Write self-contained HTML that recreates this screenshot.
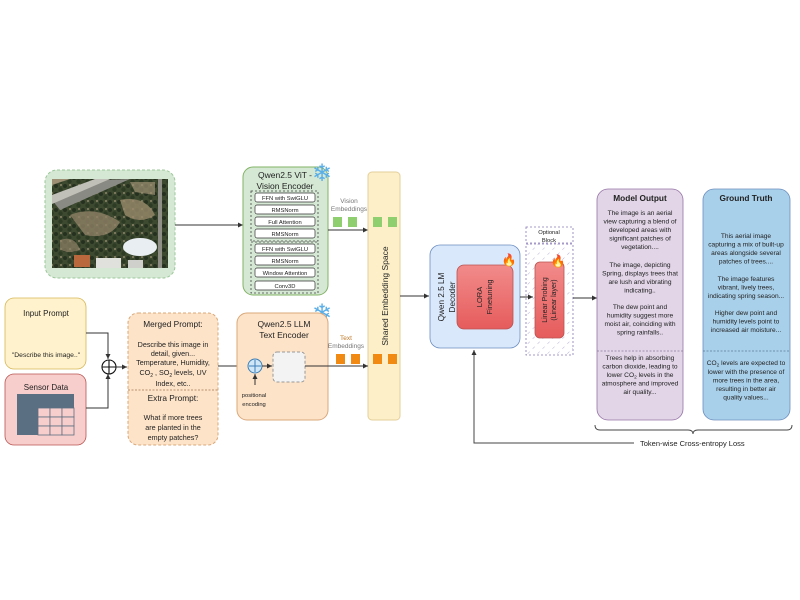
<!DOCTYPE html>
<html><head><meta charset="utf-8"><style>
html,body{margin:0;padding:0;background:#fff;width:800px;height:600px;overflow:hidden}
svg{display:block}
text{font-family:"Liberation Sans",Arial,sans-serif;fill:#222}
</style></head><body>
<svg width="800" height="600" viewBox="0 0 800 600" xmlns="http://www.w3.org/2000/svg">
<defs>
<marker id="ar" markerWidth="6" markerHeight="6" refX="5" refY="3" orient="auto"><path d="M0,0.5 L5,3 L0,5.5 z" fill="#333"/></marker>
<pattern id="hatch" width="7" height="7" patternUnits="userSpaceOnUse" patternTransform="rotate(45)"><line x1="0" y1="0" x2="0" y2="3" stroke="#b9b0d8" stroke-width="1"/></pattern>
<pattern id="trees" width="9" height="8" patternUnits="userSpaceOnUse"><rect width="9" height="8" fill="#3e4a30"/><circle cx="2" cy="2" r="2" fill="#26301f"/><circle cx="6.5" cy="5.5" r="2.2" fill="#2d3a24"/><circle cx="7" cy="1" r="1" fill="#8c8468"/></pattern>
<linearGradient id="red" x1="0" y1="0" x2="0" y2="1"><stop offset="0" stop-color="#f28b8b"/><stop offset="1" stop-color="#e65c5c"/></linearGradient>
</defs>

<!-- image container -->
<rect x="45" y="170" width="130" height="108" rx="12" fill="#d5e8d4" stroke="#9cc79a" stroke-dasharray="3,2"/>
<rect x="52" y="179" width="116" height="89" fill="url(#trees)"/>
<path d="M52,200 L100,180 L130,179 L60,210 Z" fill="#8a8a84"/>
<path d="M52,195 L95,179 L110,179 L52,204 Z" fill="#c0c0b8"/>
<path d="M52,185 L70,179 L52,179 Z" fill="#9c8f74"/>
<rect x="158" y="179" width="4" height="89" fill="#8f8f88"/>
<path d="M70,215 Q95,205 120,222 Q110,240 85,235 Z" fill="#8f8166" opacity="0.8"/>
<path d="M120,200 Q145,195 155,215 Q140,225 125,215 Z" fill="#998a6c" opacity="0.8"/>
<path d="M60,240 Q75,235 80,250 Q65,255 60,248 Z" fill="#8f8166" opacity="0.7"/>
<path d="M130,182 L155,182 L155,195 L135,192 Z" fill="#9c9074" opacity="0.7"/>
<ellipse cx="140" cy="247" rx="17" ry="9" fill="#e8eef2"/>
<rect x="74" y="255" width="16" height="12" fill="#b9683e"/>
<rect x="96" y="258" width="25" height="10" fill="#e0e0dc"/>
<rect x="128" y="260" width="15" height="8" fill="#cfcfcb"/>
<path d="M175,225 L243,225" stroke="#333" marker-end="url(#ar)"/>

<!-- vision encoder -->
<rect x="243" y="167" width="85" height="128" rx="10" fill="#d5e8d4" stroke="#82b366"/>
<text x="285" y="178" font-size="8.5" text-anchor="middle">Qwen2.5 ViT -</text>
<text x="285" y="189" font-size="8.5" text-anchor="middle">Vision Encoder</text>
<rect x="251" y="191" width="67" height="50" fill="none" stroke="#444" stroke-dasharray="2,2" stroke-width="0.8"/>
<rect x="251" y="242" width="67" height="51" fill="none" stroke="#444" stroke-dasharray="2,2" stroke-width="0.8"/>
<g font-size="5.8" text-anchor="middle">
<rect x="255" y="193" width="60" height="9" rx="2" fill="#fff" stroke="#333" stroke-width="0.7"/><text x="285" y="200">FFN with SwiGLU</text>
<rect x="255" y="205" width="60" height="9" rx="2" fill="#fff" stroke="#333" stroke-width="0.7"/><text x="285" y="212">RMSNorm</text>
<rect x="255" y="217" width="60" height="9" rx="2" fill="#fff" stroke="#333" stroke-width="0.7"/><text x="285" y="224">Full Attention</text>
<rect x="255" y="229" width="60" height="9" rx="2" fill="#fff" stroke="#333" stroke-width="0.7"/><text x="285" y="236">RMSNorm</text>
<rect x="255" y="244" width="60" height="9" rx="2" fill="#fff" stroke="#333" stroke-width="0.7"/><text x="285" y="251">FFN with SwiGLU</text>
<rect x="255" y="256" width="60" height="9" rx="2" fill="#fff" stroke="#333" stroke-width="0.7"/><text x="285" y="263">RMSNorm</text>
<rect x="255" y="268" width="60" height="9" rx="2" fill="#fff" stroke="#333" stroke-width="0.7"/><text x="285" y="275">Window Attention</text>
<rect x="255" y="281" width="60" height="9" rx="2" fill="#fff" stroke="#333" stroke-width="0.7"/><text x="285" y="288">Conv3D</text>
</g>
<text x="322" y="181" font-size="24" text-anchor="middle" style="fill:#5aaee8">❄</text>
<text x="322" y="321" font-size="24" text-anchor="middle" style="fill:#5aaee8">❄</text>

<text x="349" y="203" font-size="6.5" text-anchor="middle" style="fill:#777">Vision</text>
<text x="349" y="211" font-size="6.5" text-anchor="middle" style="fill:#777">Embeddings</text>
<rect x="333" y="217" width="9" height="10" fill="#8fcf6f"/><rect x="348" y="217" width="9" height="10" fill="#8fcf6f"/>
<path d="M328,230 L368,230" stroke="#333" marker-end="url(#ar)"/>

<!-- shared embedding -->
<rect x="368" y="172" width="32" height="248" rx="4" fill="#fdf0c8" stroke="#e3cf9a"/>
<rect x="373" y="217" width="9" height="10" fill="#8fcf6f"/><rect x="388" y="217" width="9" height="10" fill="#8fcf6f"/>
<rect x="373" y="354" width="9" height="10" fill="#f08a12"/><rect x="388" y="354" width="9" height="10" fill="#f08a12"/>
<text transform="translate(388,296) rotate(-90)" font-size="8.5" text-anchor="middle">Shared Embedding Space</text>

<!-- input prompt / sensor -->
<rect x="5" y="298" width="81" height="71" rx="9" fill="#fff2cc" stroke="#d6b656" stroke-width="0.8"/>
<text x="46" y="316" font-size="8" text-anchor="middle">Input Prompt</text>
<text x="46" y="357" font-size="6.8" text-anchor="middle">"Describe this image.."</text>
<rect x="5" y="374" width="81" height="71" rx="9" fill="#f8cecc" stroke="#b85450" stroke-width="0.8"/>
<text x="46" y="390" font-size="8" text-anchor="middle">Sensor Data</text>
<rect x="17" y="394" width="57" height="41" fill="#5b6f82"/>
<g fill="#f8cecc" stroke="#5b6f82" stroke-width="0.8">
<rect x="38" y="408" width="12" height="9"/><rect x="50" y="408" width="12" height="9"/><rect x="62" y="408" width="12" height="9"/>
<rect x="38" y="417" width="12" height="9"/><rect x="50" y="417" width="12" height="9"/><rect x="62" y="417" width="12" height="9"/>
<rect x="38" y="426" width="12" height="9"/><rect x="50" y="426" width="12" height="9"/><rect x="62" y="426" width="12" height="9"/>
</g>
<path d="M86,333 L108,333 L108,359" stroke="#333" fill="none" marker-end="url(#ar)"/>
<path d="M86,408 L108,408 L108,374" stroke="#333" fill="none" marker-end="url(#ar)"/>
<circle cx="109" cy="367" r="7" fill="#fff" stroke="#111" stroke-width="1.1"/>
<path d="M102,367 L116,367 M109,360 L109,374" stroke="#111" stroke-width="1.1"/>
<path d="M116,367 L127,367" stroke="#333" marker-end="url(#ar)"/>

<!-- merged prompt -->
<rect x="128" y="313" width="90" height="132" rx="10" fill="#fde3c8" stroke="#d9a87a" stroke-dasharray="3,2"/>
<g font-size="7.2" text-anchor="middle">
<text x="173" y="327" font-size="8.3">Merged Prompt:</text>
<text x="173" y="347">Describe this image in</text>
<text x="173" y="356">detail, given...</text>
<text x="173" y="365">Temperature, Humidity,</text>
<text x="173" y="375">CO<tspan font-size="5" dy="2">2</tspan><tspan dy="-2"> , SO</tspan><tspan font-size="5" dy="2">2</tspan><tspan dy="-2"> levels, UV</tspan></text>
<text x="173" y="386">Index, etc..</text>
<text x="173" y="401" font-size="8.3">Extra Prompt:</text>
<text x="173" y="420">What if more trees</text>
<text x="173" y="430">are planted in the</text>
<text x="173" y="440">empty patches?</text>
</g>
<line x1="128" y1="390" x2="218" y2="390" stroke="#a07850" stroke-dasharray="2,1.5" stroke-width="0.8"/>
<path d="M218,366 L247,366" stroke="#333" marker-end="url(#ar)"/>

<!-- text encoder -->
<rect x="237" y="313" width="91" height="107" rx="10" fill="#fde3c8" stroke="#d9a87a"/>
<text x="284" y="327" font-size="8.5" text-anchor="middle">Qwen2.5 LLM</text>
<text x="284" y="338" font-size="8.5" text-anchor="middle">Text Encoder</text>
<circle cx="255" cy="366" r="7" fill="#cfe6f7" stroke="#3d7fb8"/>
<path d="M249,366 L261,366 M255,360 L255,372" stroke="#3d7fb8"/>
<path d="M255,385 L255,374" stroke="#333" marker-end="url(#ar)"/>
<text x="254" y="397" font-size="5.8" text-anchor="middle">positional</text>
<text x="254" y="406" font-size="5.8" text-anchor="middle">encoding</text>
<path d="M262,366 L272,366" stroke="#333" marker-end="url(#ar)"/>
<rect x="273" y="352" width="32" height="30" rx="4" fill="#f3f3f3" stroke="#999" stroke-dasharray="3,2"/>
<path d="M305,366 L368,366" stroke="#333" marker-end="url(#ar)"/>
<text x="346" y="340" font-size="6.5" text-anchor="middle" style="fill:#c07a2a">Text</text>
<text x="346" y="348" font-size="6.5" text-anchor="middle" style="fill:#777">Embeddings</text>
<rect x="336" y="354" width="9" height="10" fill="#f08a12"/><rect x="351" y="354" width="9" height="10" fill="#f08a12"/>

<!-- decoder -->
<path d="M400,296 L429,296" stroke="#333" marker-end="url(#ar)"/>
<rect x="430" y="245" width="90" height="103" rx="10" fill="#dae8fc" stroke="#6c8ebf" stroke-width="0.8"/>
<text transform="translate(444,297) rotate(-90)" font-size="8.2" text-anchor="middle">Qwen 2.5 LM</text>
<text transform="translate(455,297) rotate(-90)" font-size="8.2" text-anchor="middle">Decoder</text>
<rect x="457" y="265" width="56" height="64" rx="7" fill="url(#red)" stroke="#b85450" stroke-width="0.8"/>
<text transform="translate(482,297) rotate(-90)" font-size="7.5" text-anchor="middle">LORA</text>
<text transform="translate(492,297) rotate(-90)" font-size="7.5" text-anchor="middle">Finetuning</text>
<text x="509" y="264" font-size="12" text-anchor="middle">🔥</text>
<path d="M520,297 L533,297" stroke="#333" marker-end="url(#ar)"/>

<!-- optional block -->
<rect x="526" y="227" width="47" height="16" fill="#fff" stroke="#8878b8" stroke-dasharray="2,2" stroke-width="0.8"/>
<text x="549" y="234" font-size="5.8" text-anchor="middle">Optional</text>
<text x="549" y="242" font-size="5.8" text-anchor="middle">Block</text>
<rect x="526" y="244" width="47" height="111" fill="url(#hatch)" stroke="#8878b8" stroke-dasharray="2,2" stroke-width="0.8"/>
<rect x="535" y="262" width="29" height="76" rx="5" fill="url(#red)" stroke="#b85450" stroke-width="0.8"/>
<text transform="translate(547,300) rotate(-90)" font-size="7" text-anchor="middle">Linear Probing</text>
<text transform="translate(556,300) rotate(-90)" font-size="7" text-anchor="middle">(Linear layer)</text>
<text x="558" y="265" font-size="12" text-anchor="middle">🔥</text>
<path d="M573,298 L597,298" stroke="#333" marker-end="url(#ar)"/>

<!-- model output -->
<rect x="597" y="189" width="86" height="231" rx="11" fill="#e1d5e7" stroke="#9673a6" stroke-width="0.8"/>
<g font-size="6.6" text-anchor="middle">
<text x="640" y="201" font-size="8.3" font-weight="bold">Model Output</text>
<text x="640" y="215">The image is an aerial</text>
<text x="640" y="223.5">view capturing a blend of</text>
<text x="640" y="232">developed areas with</text>
<text x="640" y="240.5">significant patches of</text>
<text x="640" y="249">vegetation....</text>
<text x="640" y="267">The image, depicting</text>
<text x="640" y="275.5">Spring, displays trees that</text>
<text x="640" y="284">are lush and vibrating</text>
<text x="640" y="292.5">indicating..</text>
<text x="640" y="309">The dew point and</text>
<text x="640" y="317.5">humidity suggest more</text>
<text x="640" y="326">moist air, coinciding with</text>
<text x="640" y="334.5">spring rainfalls..</text>
<text x="640" y="360">Trees help in absorbing</text>
<text x="640" y="368.5">carbon dioxide, leading to</text>
<text x="640" y="377">lower CO<tspan font-size="4.8" dy="1.5">2</tspan><tspan dy="-1.5"> levels in the</tspan></text>
<text x="640" y="385.5">atmosphere and improved</text>
<text x="640" y="394">air quality...</text>
</g>
<line x1="597" y1="351" x2="683" y2="351" stroke="#8a7a9a" stroke-dasharray="2,1.5" stroke-width="0.8"/>

<!-- ground truth -->
<rect x="703" y="189" width="87" height="231" rx="11" fill="#a9d0ea" stroke="#6c8ebf" stroke-width="0.8"/>
<g font-size="6.6" text-anchor="middle">
<text x="746" y="201" font-size="8.3" font-weight="bold">Ground Truth</text>
<text x="746" y="238">This aerial image</text>
<text x="746" y="246.5">capturing a mix of built-up</text>
<text x="746" y="255">areas alongside several</text>
<text x="746" y="263.5">patches of trees....</text>
<text x="746" y="281">The image features</text>
<text x="746" y="289.5">vibrant, lively trees,</text>
<text x="746" y="298">indicating spring season...</text>
<text x="746" y="315">Higher dew point and</text>
<text x="746" y="323.5">humidity levels point to</text>
<text x="746" y="332">increased air moisture...</text>
<text x="746" y="365">CO<tspan font-size="4.8" dy="1.5">2</tspan><tspan dy="-1.5"> levels are expected to</tspan></text>
<text x="746" y="374">lower with the presence of</text>
<text x="746" y="382.5">more trees in the area,</text>
<text x="746" y="391">resulting in better air</text>
<text x="746" y="399.5">quality values...</text>
</g>
<line x1="703" y1="351" x2="790" y2="351" stroke="#5a7a9a" stroke-dasharray="2,1.5" stroke-width="0.8"/>

<!-- brace & loss -->
<path d="M595,425 Q595,430 600,430 L688,430 Q693,430 693,434 Q693,430 698,430 L787,430 Q792,430 792,425" stroke="#444" fill="none" stroke-width="0.9"/>
<path d="M634,443 L474,443 L474,350" stroke="#444" fill="none" marker-end="url(#ar)"/>
<text x="640" y="446" font-size="7.5">Token-wise Cross-entropy Loss</text>
</svg>
</body></html>
